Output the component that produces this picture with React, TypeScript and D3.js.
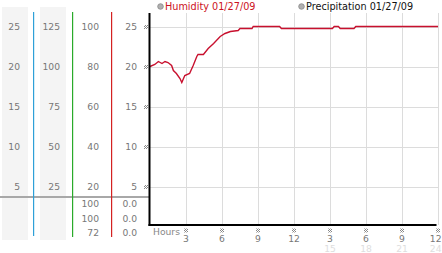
import React from "react";
import * as d3 from "d3";

const col1Labels = ["25", "20", "15", "10", "5"];
const col2Labels = ["125", "100", "75", "50", "25"];
const col3Labels = ["100", "80", "60", "40", "20"];
const col4Labels = ["25", "20", "15", "10", "5"];
const tickValues = [25, 20, 15, 10, 5];
const col3Stats = ["100", "100", "72"];
const col4Stats = ["0.0", "0.0", "0.0"];
const hourTicks = [3, 6, 9, 12, 15, 18, 21, 24];
const hourLabels = ["3", "6", "9", "12", "3", "6", "9", "12"];
const hourLabels2 = ["", "", "", "", "15", "18", "21", "24"];

const humHours = [0, 0.4, 0.7, 1.0, 1.25, 1.5, 1.8, 1.95, 2.2, 2.5, 2.65, 2.9, 3.3, 3.6, 3.9, 4.0, 4.45, 4.85, 5.3, 5.85, 6.25, 6.7, 7.35, 7.5, 8.5, 8.6, 10.8, 10.95, 15.2, 15.35, 15.7, 15.85, 17.0, 17.15, 24];
const humValues = [80, 81, 82.5, 81.5, 82.5, 82, 80.5, 78, 76.5, 74, 72, 75.5, 76.5, 80.5, 85, 86, 86, 89, 91.5, 95, 96.5, 97.5, 98, 99, 99, 100, 100, 99, 99, 100, 100, 99, 99, 100, 100];

const W = 442, H = 253;
const FONT = "DejaVu Sans, Verdana, sans-serif";

export default function App() {
  const x = d3.scaleLinear().domain([0, 24]).range([150, 438]);
  const y = d3.scaleLinear().domain([0, 25]).range([226.5, 26.5]);
  const yh = d3.scaleLinear().domain([0, 100]).range([226.5, 26.5]);
  const line = d3
    .line<number>()
    .x((_, i) => x(humHours[i]))
    .y((d) => yh(d))
    .curve(d3.curveLinear);
  const statRows = [204, 218.5, 233];

  const checker = (cx: number, cy: number, key: string) => (
    <rect key={key} x={cx - 2} y={cy - 2} width={4} height={4} fill="url(#chk)" />
  );

  const colLabels = (labels: string[], xr: number, k: string) =>
    labels.map((l, i) => (
      <text key={k + i} x={xr} y={y(tickValues[i]) + 3.3} textAnchor="end" fontSize={9.2} fill="#777" fontFamily={FONT}>
        {l}
      </text>
    ));

  const lastIdx = hourTicks.length - 1;

  return (
    <svg width={W} height={H} style={{ position: "absolute", left: 0, top: 0, background: "#fff" }}>
      <defs>
        <pattern id="chk" width={2} height={2} patternUnits="userSpaceOnUse">
          <rect x={0} y={0} width={1} height={1} fill="#888" />
          <rect x={1} y={1} width={1} height={1} fill="#888" />
        </pattern>
      </defs>
      <rect x={2} y={7} width={26} height={233} fill="#f4f4f4" />
      <rect x={40} y={7} width={26} height={233} fill="#f4f4f4" />

      <rect x={0} y={196} width={150} height={2} fill="#a8a8a8" />

      <rect x={33} y={12} width={1.2} height={224} fill="#2ea0d8" />
      <rect x={72} y={12} width={1.2} height={225} fill="#2aaa2a" />
      <rect x={111} y={12} width={1.2} height={225} fill="#d42222" />

      {colLabels(col1Labels, 20, "a")}
      {colLabels(col2Labels, 60, "b")}
      {colLabels(col3Labels, 99, "c")}
      {colLabels(col4Labels, 137, "d")}

      {col3Stats.map((s, i) => (
        <text key={"s3" + i} x={99} y={statRows[i] + 3.3} textAnchor="end" fontSize={9.2} fill="#777" fontFamily={FONT}>{s}</text>
      ))}
      {col4Stats.map((s, i) => (
        <text key={"s4" + i} x={137} y={statRows[i] + 3.3} textAnchor="end" fontSize={9.2} fill="#777" fontFamily={FONT}>{s}</text>
      ))}

      {tickValues.map((v) => (
        <line key={"gh" + v} x1={150} x2={438} y1={Math.round(y(v)) + 0.5} y2={Math.round(y(v)) + 0.5} stroke="#dcdcdc" />
      ))}
      {hourTicks.map((h) => (
        <line key={"gv" + h} x1={Math.round(x(h)) + 0.5} x2={Math.round(x(h)) + 0.5} y1={13} y2={225} stroke="#dcdcdc" />
      ))}
      {tickValues.map((v) => checker(146, Math.round(y(v)), "ck" + v))}

      <path d={line(humValues) || ""} fill="none" stroke="#c8102e" strokeWidth={1.4} />

      <rect x={148.5} y={13} width={2} height={213} fill="#000" />
      <rect x={148.5} y={224} width={288} height={2} fill="#000" />

      <text x={153} y={234.5} fontSize={9.2} fill="#888" fontFamily={FONT}>Hours</text>
      {hourTicks.map((h, i) => {
        const last = i === lastIdx;
        const tx = last ? W - 0.5 : x(h);
        const anchor = last ? "end" : "middle";
        return (
          <g key={"xl" + h}>
            {checker(Math.round(x(h)), 230.5, "xc" + h)}
            <text x={tx} y={241.5} textAnchor={anchor} fontSize={9.2} fill="#777" fontFamily={FONT}>{hourLabels[i]}</text>
            <text x={tx} y={252} textAnchor={anchor} fontSize={9.2} fill="#dedede" fontFamily={FONT}>{hourLabels2[i]}</text>
          </g>
        );
      })}

      <circle cx={160.5} cy={6.5} r={2.8} fill="#b0b0b0" stroke="#888" strokeWidth={0.8} />
      <text x={165} y={10} fontSize={9.7} fill="#cc1122" fontFamily={FONT}>Humidity 01/27/09</text>
      <circle cx={301.5} cy={6.5} r={2.8} fill="#b0b0b0" stroke="#888" strokeWidth={0.8} />
      <text x={306} y={10} fontSize={9.7} fill="#111" fontFamily={FONT}>Precipitation 01/27/09</text>
    </svg>
  );
}
